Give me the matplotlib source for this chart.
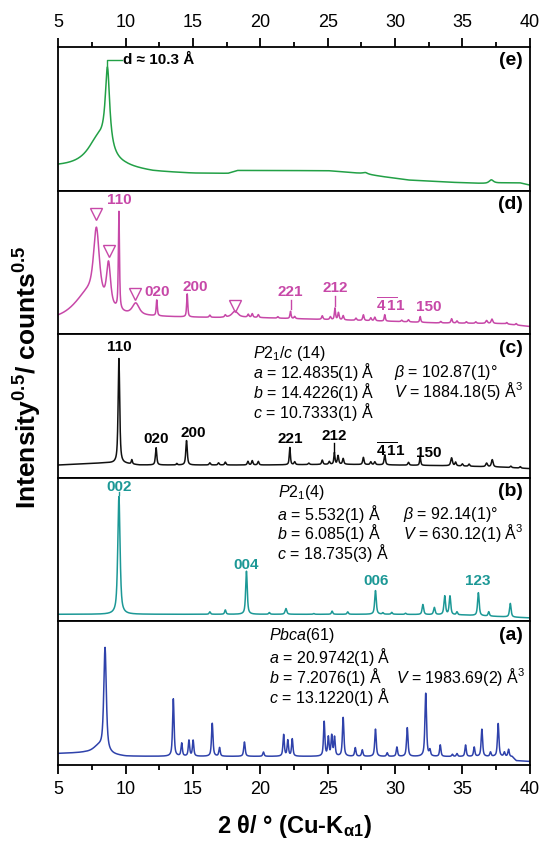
import numpy as np
import matplotlib
matplotlib.use('Agg')
import matplotlib.pyplot as plt
from matplotlib.ticker import MultipleLocator

# 字体设置
plt.rcParams['font.family'] = ['Liberation Sans', 'DejaVu Sans']
plt.rcParams['mathtext.fontset'] = 'custom'
plt.rcParams['mathtext.rm'] = 'Liberation Sans'
plt.rcParams['mathtext.it'] = 'Liberation Sans:italic'
plt.rcParams['mathtext.bf'] = 'Liberation Sans:bold'

# ---------------- 数据（各面板纵坐标为面板高度的比例）----------------
# (e) 背底 + 峰
e_bg_x = [5, 8, 10, 12, 15, 17.6, 18.3, 25, 27.6, 29, 31, 34, 36.8, 38, 39.3, 40]
e_bg_y = [0.165, 0.16, 0.15, 0.13, 0.12, 0.12, 0.14, 0.14, 0.12, 0.10, 0.075, 0.06, 0.05, 0.055, 0.055, 0.04]
e_pos = [8.0, 8.65, 27.8, 37.15]
e_amp = [0.20, 0.565, 0.01, 0.025]
e_fwhm = [2.0, 0.4, 0.4, 0.4]

# (d)
d_bg_x = [5, 7, 9, 11.5, 17, 18, 22, 26, 30, 33, 38, 40]
d_bg_y = [0.10, 0.11, 0.12, 0.12, 0.115, 0.12, 0.11, 0.10, 0.09, 0.08, 0.075, 0.055]
d_pos = [7.83, 7.3, 8.73, 9.5, 10.75, 12.31, 14.57, 16.25, 17.4, 18.12, 19.1, 19.4, 19.85,
         21.3, 22.24, 22.55, 24.6, 25.2, 25.54, 25.8, 26.15, 27.1, 27.65, 28.2, 28.5, 29.24,
         30.5, 31.0, 31.87, 33.4, 34.2, 34.6, 35.3, 36.0, 36.8, 37.2, 38.3, 39.0]
d_amp = [0.47, 0.18, 0.29, 0.68, 0.08, 0.11, 0.16, 0.015, 0.015, 0.04, 0.02, 0.025, 0.02,
         0.01, 0.05, 0.015, 0.025, 0.02, 0.08, 0.05, 0.03, 0.015, 0.04, 0.02, 0.025, 0.045,
         0.01, 0.015, 0.04, 0.01, 0.03, 0.015, 0.01, 0.01, 0.02, 0.03, 0.01, 0.01]
d_fwhm = [0.5, 2.5, 0.35, 0.1, 0.6, 0.1, 0.1, 0.12, 0.12, 0.5, 0.12, 0.12, 0.12,
          0.12, 0.1, 0.12, 0.12, 0.12, 0.1, 0.12, 0.12, 0.12, 0.12, 0.12, 0.12, 0.1,
          0.12, 0.12, 0.1, 0.12, 0.12, 0.12, 0.12, 0.12, 0.15, 0.15, 0.12, 0.12]

# (c)
c_bg_x = [5, 8.5, 10, 11, 20, 26, 30, 34, 38, 40]
c_bg_y = [0.09, 0.105, 0.10, 0.09, 0.09, 0.095, 0.09, 0.085, 0.075, 0.065]
c_pos = [9.5, 10.46, 12.26, 13.8, 14.52, 16.25, 16.9, 17.4, 19.08, 19.4, 19.85, 22.19, 22.55,
         23.6, 24.6, 25.12, 25.5, 25.77, 26.15, 27.65, 28.2, 28.5, 29.24, 31.0, 31.87, 34.2,
         34.5, 35.0, 35.5, 36.8, 37.22, 38.6, 39.3]
c_amp = [0.73, 0.03, 0.12, 0.01, 0.17, 0.015, 0.015, 0.02, 0.025, 0.03, 0.025, 0.12, 0.02,
         0.01, 0.03, 0.02, 0.08, 0.06, 0.04, 0.05, 0.02, 0.02, 0.07, 0.02, 0.06, 0.055,
         0.025, 0.015, 0.015, 0.025, 0.05, 0.01, 0.01]
c_fwhm = [0.14, 0.1, 0.12, 0.1, 0.13, 0.12, 0.12, 0.12, 0.12, 0.12, 0.12, 0.1, 0.12,
          0.12, 0.12, 0.12, 0.1, 0.12, 0.12, 0.12, 0.12, 0.12, 0.12, 0.12, 0.1, 0.15,
          0.12, 0.12, 0.12, 0.15, 0.15, 0.12, 0.12]

# (b)
b_bg_x = [5, 30, 35, 40]
b_bg_y = [0.05, 0.05, 0.045, 0.025]
b_pos = [9.5, 16.25, 17.4, 18.97, 20.67, 21.9, 23.97, 25.33, 26.49, 28.55, 29.1, 29.76,
         30.78, 32.07, 32.92, 33.69, 34.08, 34.6, 36.19, 36.96, 38.56]
b_amp = [0.82, 0.017, 0.03, 0.30, 0.012, 0.04, 0.005, 0.022, 0.017, 0.165, 0.01, 0.013,
         0.008, 0.07, 0.05, 0.13, 0.13, 0.02, 0.16, 0.03, 0.095]
b_fwhm = [0.2, 0.12, 0.12, 0.14, 0.12, 0.15, 0.12, 0.12, 0.12, 0.14, 0.12, 0.12,
          0.12, 0.14, 0.14, 0.14, 0.14, 0.12, 0.14, 0.12, 0.14]

# (a)
a_bg_x = [5, 7, 10, 13, 24, 38.7, 39, 40]
a_bg_y = [0.08, 0.085, 0.06, 0.06, 0.06, 0.058, 0.03, 0.025]
a_pos = [8.0, 8.47, 13.54, 14.16, 14.7, 15.01, 16.43, 16.97, 18.82, 20.23, 21.73, 22.04,
         22.37, 24.74, 25.05, 25.3, 25.51, 26.15, 27.05, 27.57, 28.55, 29.42, 30.14, 30.91,
         32.28, 32.59, 33.36, 34.26, 34.6, 35.24, 35.88, 36.45, 37.09, 37.66, 38.12, 38.43]
a_amp = [0.05, 0.72, 0.40, 0.09, 0.11, 0.11, 0.23, 0.06, 0.10, 0.03, 0.15, 0.11,
         0.12, 0.24, 0.13, 0.14, 0.13, 0.27, 0.06, 0.045, 0.19, 0.025, 0.065, 0.20,
         0.44, 0.04, 0.08, 0.015, 0.02, 0.08, 0.065, 0.19, 0.03, 0.23, 0.03, 0.05]
a_fwhm = [1.0, 0.22, 0.13, 0.12, 0.12, 0.12, 0.13, 0.12, 0.13, 0.12, 0.12, 0.12,
          0.12, 0.12, 0.12, 0.12, 0.12, 0.13, 0.12, 0.12, 0.13, 0.12, 0.12, 0.13,
          0.14, 0.12, 0.12, 0.12, 0.12, 0.12, 0.12, 0.13, 0.12, 0.13, 0.12, 0.12]

# 三角标记（∇）位置
d_tri_x = [7.83, 8.73, 10.71, 18.12]
d_tri_y = [0.84, 0.58, 0.28, 0.20]

COL_E = '#22a046'
COL_D = '#c748a8'
COL_C = '#111111'
COL_B = '#1c9896'
COL_A = '#2f42ab'


def pattern(x, bg_x, bg_y, pos, amp, fwhm, eta=0.7):
    """背底 + 伪Voigt峰"""
    y = np.interp(x, bg_x, bg_y)
    for p, h, w in zip(pos, amp, fwhm):
        hw = w / 2.0
        lor = 1.0 / (1.0 + ((x - p) / hw) ** 2)
        gau = np.exp(-np.log(2) * ((x - p) / hw) ** 2)
        y = y + h * (eta * lor + (1 - eta) * gau)
    return y


x = np.linspace(5, 40, 3501)

fig = plt.figure(figsize=(5.44, 8.43), dpi=100)
axes = fig.subplots(5, 1, sharex=True, gridspec_kw=dict(hspace=0))
fig.subplots_adjust(left=0.1072, right=0.9737, top=0.9439, bottom=0.0925)
ax_e, ax_d, ax_c, ax_b, ax_a = axes

curves = [
    (ax_e, e_bg_x, e_bg_y, e_pos, e_amp, e_fwhm, COL_E, '(e)', 1.0),
    (ax_d, d_bg_x, d_bg_y, d_pos, d_amp, d_fwhm, COL_D, '(d)', 0.7),
    (ax_c, c_bg_x, c_bg_y, c_pos, c_amp, c_fwhm, COL_C, '(c)', 0.7),
    (ax_b, b_bg_x, b_bg_y, b_pos, b_amp, b_fwhm, COL_B, '(b)', 0.7),
    (ax_a, a_bg_x, a_bg_y, a_pos, a_amp, a_fwhm, COL_A, '(a)', 0.7),
]

for ax, bx, by, pos, amp, fw, col, lab, eta in curves:
    ax.plot(x, pattern(x, bx, by, pos, amp, fw, eta), color=col, lw=1.1)
    ax.set_xlim(5, 40)
    ax.set_ylim(0, 1)
    ax.set_yticks([])
    ax.tick_params(axis='x', which='both', bottom=False, top=False,
                   labelbottom=False, labeltop=False)
    for sp in ax.spines.values():
        sp.set_linewidth(1.3)
    ax.text(39.5, 0.905, lab, ha='right', va='center', fontsize=14, fontweight='bold')

# 顶部和底部刻度
for ax, side in [(ax_e, 'top'), (ax_a, 'bottom')]:
    ax.xaxis.set_major_locator(MultipleLocator(5))
    ax.xaxis.set_minor_locator(MultipleLocator(2.5))
    kw = {side: True, 'label' + side: True}
    ax.tick_params(axis='x', which='major', direction='out', length=6.5, width=1.3,
                   labelsize=13, pad=5, **kw)
    ax.tick_params(axis='x', which='minor', direction='out', length=3.5, width=1.3, **{side: True})

# (e) d 值标注
ax_e.plot([8.65, 8.65, 9.7], [0.87, 0.911, 0.911], color=COL_E, lw=1.0)
ax_e.text(9.8, 0.911, 'd ≈ 10.3 Å', ha='left', va='center', fontsize=11, fontweight='bold')


# 晶面指数标注
def hkl(ax, s, xx, yy, col, tick=None):
    ax.text(xx, yy, s, ha='center', va='center', fontsize=11, fontweight='bold', color=col)
    if tick is not None:
        ax.plot([tick[0], tick[0]], [tick[1], tick[2]], color=col, lw=1.0)


bar411 = r'$\overline{\mathbf{4}}\,\overline{\mathbf{1}}\mathbf{1}$'

hkl(ax_d, '110', 9.5, 0.935, COL_D)
hkl(ax_d, '020', 12.3, 0.295, COL_D)
hkl(ax_d, '200', 15.2, 0.33, COL_D)
hkl(ax_d, '221', 22.24, 0.295, COL_D, tick=(22.24, 0.24, 0.18))
hkl(ax_d, '212', 25.54, 0.325, COL_D, tick=(25.54, 0.27, 0.2))
hkl(ax_d, bar411, 29.65, 0.2, COL_D)
hkl(ax_d, '150', 32.5, 0.19, COL_D)
ax_d.plot(d_tri_x, d_tri_y, linestyle='none', marker='v', markersize=8,
          markerfacecolor='none', markeredgecolor=COL_D, markeredgewidth=1.0)

hkl(ax_c, '110', 9.5, 0.91, 'black')
hkl(ax_c, '020', 12.26, 0.27, 'black')
hkl(ax_c, '200', 15.0, 0.31, 'black')
hkl(ax_c, '221', 22.19, 0.27, 'black')
hkl(ax_c, '212', 25.5, 0.29, 'black', tick=(25.5, 0.24, 0.18))
hkl(ax_c, bar411, 29.65, 0.19, 'black')
hkl(ax_c, '150', 32.5, 0.175, 'black')

hkl(ax_b, '002', 9.5, 0.935, COL_B, tick=(9.5, 0.905, 0.88))
hkl(ax_b, '004', 18.97, 0.39, COL_B)
hkl(ax_b, '006', 28.6, 0.283, COL_B)
hkl(ax_b, '123', 36.15, 0.283, COL_B)

# 晶胞参数（每列写成一个多行文本）
fs = 11.5
ls = 0.88
cell = dict(fontsize=fs, va='center', linespacing=ls)

ax_c.text(19.46, 0.87, r'$P$2$_1$/$c$ (14)', fontsize=fs, va='center')
ax_c.text(19.46, 0.60, '$a$ = 12.4835(1) Å\n$b$ = 14.4226(1) Å\n$c$ = 10.7333(1) Å', **cell)
ax_c.text(29.9, 0.664, '$\\beta$ = 102.87(1)°\n$V$ = 1884.18(5) Å$^3$', **cell)

ax_b.text(21.3, 0.90, r'$P$2$_1$(4)', fontsize=fs, va='center')
ax_b.text(21.26, 0.613, '$a$ = 5.532(1) Å\n$b$ = 6.085(1) Å\n$c$ = 18.735(3) Å', **cell)
ax_b.text(30.6, 0.677, '$\\beta$ = 92.14(1)°\n$V$ = 630.12(1) Å$^3$', **cell)

ax_a.text(20.62, 0.90, r'$Pbca$(61)', fontsize=fs, va='center')
ax_a.text(20.62, 0.614, '$a$ = 20.9742(1) Å\n$b$ = 7.2076(1) Å\n$c$ = 13.1220(1) Å', **cell)
ax_a.text(30.1, 0.614, r'$V$ = 1983.69(2) Å$^3$', fontsize=fs, va='center')

# 坐标轴标题
fig.text(28 / 544, 1 - 377 / 843, r'Intensity$^{\mathbf{0.5}}$/ counts$^{\mathbf{0.5}}$',
         rotation=90, ha='center', va='center', fontsize=19, fontweight='bold')
fig.text(294 / 544, 1 - 827 / 843, r'2 θ/ ° (Cu-K$_{\mathbf{α1}}$)',
         ha='center', va='center', fontsize=17, fontweight='bold')

fig.savefig('out.png', dpi=100, facecolor='white')
